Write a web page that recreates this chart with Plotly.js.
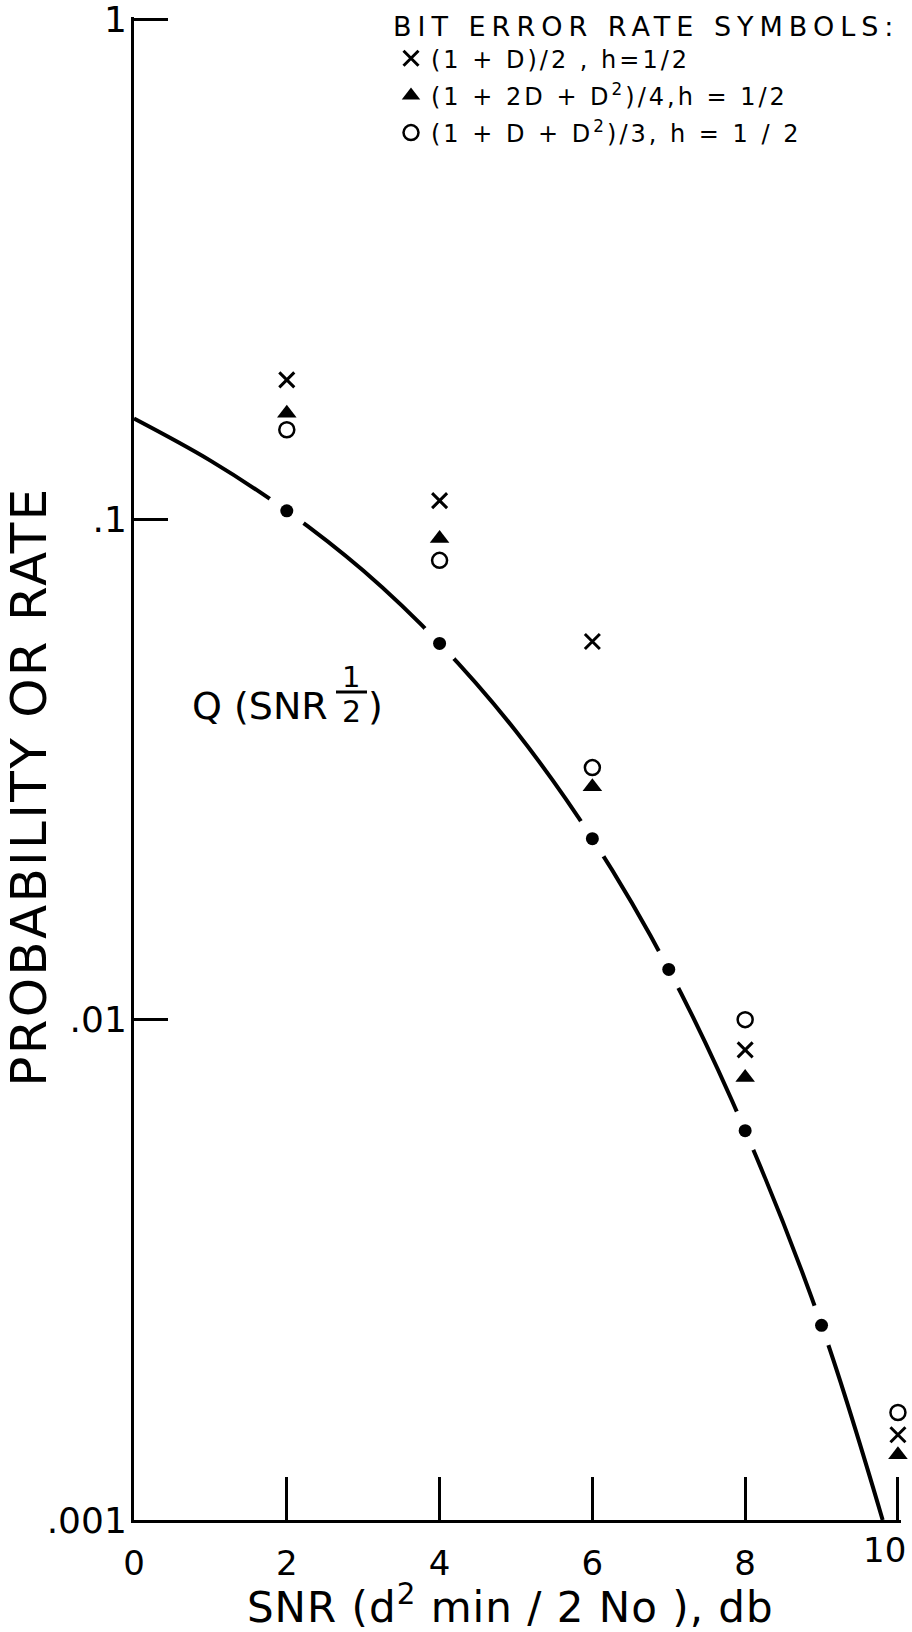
<!DOCTYPE html>
<html>
<head>
<meta charset="utf-8">
<script src="https://cdn.plot.ly/plotly-3.0.1.min.js"></script>
<style>
html, body { margin: 0; padding: 0; background: #ffffff; }
#chart { width: 912px; height: 1632px; }
.legendtitletext { letter-spacing: 6px; }
.legendtext { letter-spacing: 3px; }
.ytitle { letter-spacing: 2.3px; }
.xtitle { letter-spacing: 1px; }
</style>
</head>
<body>
<div id="chart"></div>
<script>
// Q(SNR^1/2) reference curve
const qSnrDb = [0, 1, 2, 3, 4, 5, 6, 7, 8, 9, 9.8];
const qProb = [0.159, 0.131, 0.104, 0.079, 0.0565, 0.0377, 0.0230, 0.0126, 0.0060, 0.00245, 0.0010];
// dots drawn on the curve
const dotSnrDb = [2, 4, 6, 7, 8, 9];
const dotProb = [0.104, 0.0565, 0.0230, 0.0126, 0.0060, 0.00245];
// bit error rate symbols
const berSnrDb = [2, 4, 6, 8, 10];
const berOnePlusD = [0.190, 0.109, 0.057, 0.0087, 0.00148];           // X
const berOnePlus2DPlusD2 = [0.163, 0.0916, 0.0292, 0.00766, 0.00135]; // triangle
const berOnePlusDPlusD2 = [0.151, 0.0828, 0.0319, 0.0100, 0.00164];   // circle
const seriesNames = [
  '(1 + D)/2 , h=1/2',
  '(1 + 2D + D<sup>2</sup>)/4,h = 1/2',
  '(1 + D + D<sup>2</sup>)/3, h = 1 / 2'
];
// axes
const xRange = [0, 10.04];
const yLogRange = [-3, 0.004];
const xTickVals = [0, 2, 4, 6, 8, 10];
const xTickText = ['0', '2', '4', '6', '8', ''];
const xLastTickLabel = '10';
const yTickVals = [0.001, 0.01, 0.1, 1];
const yTickText = ['.001', '.01', '.1', '1'];
const xTitle = 'SNR (d<sup>2</sup> min / 2 No ), db&nbsp;';
const yTitle = 'PROBABILITY OR RATE&nbsp;&nbsp;';
const legendTitle = 'BIT ERROR RATE SYMBOLS:';
const curveLabel = 'Q (SNR';
const curveLabelNum = '1';
const curveLabelDen = '2';
const curveLabelClose = ')';

const ink = '#000000';

const traces = [
  {
    x: qSnrDb, y: qProb, type: 'scatter', mode: 'lines',
    line: { color: ink, width: 4, shape: 'spline', smoothing: 1 },
    showlegend: false, hoverinfo: 'skip', cliponaxis: false
  },
  {
    x: dotSnrDb, y: dotProb, type: 'scatter', mode: 'markers',
    marker: { size: 42, color: '#ffffff', line: { width: 0 } },
    showlegend: false, hoverinfo: 'skip', cliponaxis: false
  },
  {
    x: dotSnrDb, y: dotProb, type: 'scatter', mode: 'markers',
    marker: { size: 13, color: ink, line: { width: 0 } },
    showlegend: false, hoverinfo: 'skip', cliponaxis: false
  },
  {
    x: berSnrDb, y: berOnePlusD, type: 'scatter', mode: 'markers',
    name: seriesNames[0], legendgroup: 'g1',
    marker: { symbol: 'x-thin', size: 15, color: ink, line: { width: 3, color: ink } },
    cliponaxis: false
  },
  {
    x: berSnrDb, y: berOnePlus2DPlusD2, type: 'scatter', mode: 'markers',
    name: seriesNames[1], legendgroup: 'g2',
    marker: { symbol: 'triangle-up', size: 17, color: ink, line: { width: 0 } },
    cliponaxis: false
  },
  {
    x: berSnrDb, y: berOnePlusDPlusD2, type: 'scatter', mode: 'markers',
    name: seriesNames[2], legendgroup: 'g3',
    marker: { symbol: 'circle-open', size: 15, color: ink, line: { width: 2.5, color: ink } },
    cliponaxis: false
  }
];

const L = 134, R = 901, T = 17, B = 1520;
const px = v => (v - L) / (R - L);
const py = v => (B - v) / (B - T);

const layout = {
  width: 912, height: 1632,
  margin: { l: L, r: 912 - R, t: T, b: 1632 - B, pad: 0, autoexpand: false },
  paper_bgcolor: '#ffffff', plot_bgcolor: '#ffffff',
  font: { family: 'DejaVu Sans, sans-serif', color: ink },
  hovermode: false,
  showlegend: true,
  xaxis: {
    range: xRange, tickmode: 'array', tickvals: xTickVals, ticktext: xTickText,
    ticks: 'inside', ticklen: 43, tickwidth: 3, tickcolor: ink,
    showline: true, linewidth: 3, linecolor: ink,
    showgrid: false, zeroline: false, fixedrange: true, automargin: false,
    tickfont: { size: 34, color: ink },
    ticklabelstandoff: 11,
    title: { text: xTitle, font: { size: 42, color: ink }, standoff: 9 }
  },
  yaxis: {
    type: 'log', range: yLogRange, tickmode: 'array', tickvals: yTickVals, ticktext: yTickText,
    ticks: 'inside', ticklen: 34, tickwidth: 3, tickcolor: ink,
    showline: true, linewidth: 3, linecolor: ink,
    showgrid: false, zeroline: false, fixedrange: true, automargin: false,
    tickfont: { size: 36, color: ink },
    ticklabelstandoff: -3, ticklabeloverflow: 'allow',
    title: { text: yTitle, font: { size: 50, color: ink }, standoff: 0 }
  },
  legend: {
    x: px(391), xanchor: 'left', y: py(1), yanchor: 'top',
    bgcolor: 'rgba(0,0,0,0)', borderwidth: 0,
    font: { size: 24, color: ink },
    title: { text: legendTitle, font: { size: 27, color: ink } },
    tracegroupgap: 3
  },
  shapes: [
    { type: 'line', xref: 'paper', yref: 'paper', x0: px(336), x1: px(367), y0: py(692), y1: py(692),
      line: { color: ink, width: 3 } }
  ],
  annotations: [
    { text: curveLabel, xref: 'paper', yref: 'paper', x: px(190), y: py(706), xanchor: 'left', yanchor: 'middle',
      showarrow: false, font: { size: 38, color: ink } },
    { text: curveLabelNum, xref: 'paper', yref: 'paper', x: px(351), y: py(677), xanchor: 'center', yanchor: 'middle',
      showarrow: false, font: { size: 29, color: ink } },
    { text: curveLabelDen, xref: 'paper', yref: 'paper', x: px(351), y: py(711), xanchor: 'center', yanchor: 'middle',
      showarrow: false, font: { size: 30, color: ink } },
    { text: curveLabelClose, xref: 'paper', yref: 'paper', x: px(375), y: py(706), xanchor: 'center', yanchor: 'middle',
      showarrow: false, font: { size: 38, color: ink } },
    { text: xLastTickLabel, xref: 'paper', yref: 'paper', x: px(908), y: py(1550),
      xanchor: 'right', yanchor: 'middle',
      showarrow: false, font: { size: 34, color: ink } }
  ]
};

Plotly.newPlot('chart', traces, layout, { staticPlot: true, displayModeBar: false });
</script>
</body>
</html>
